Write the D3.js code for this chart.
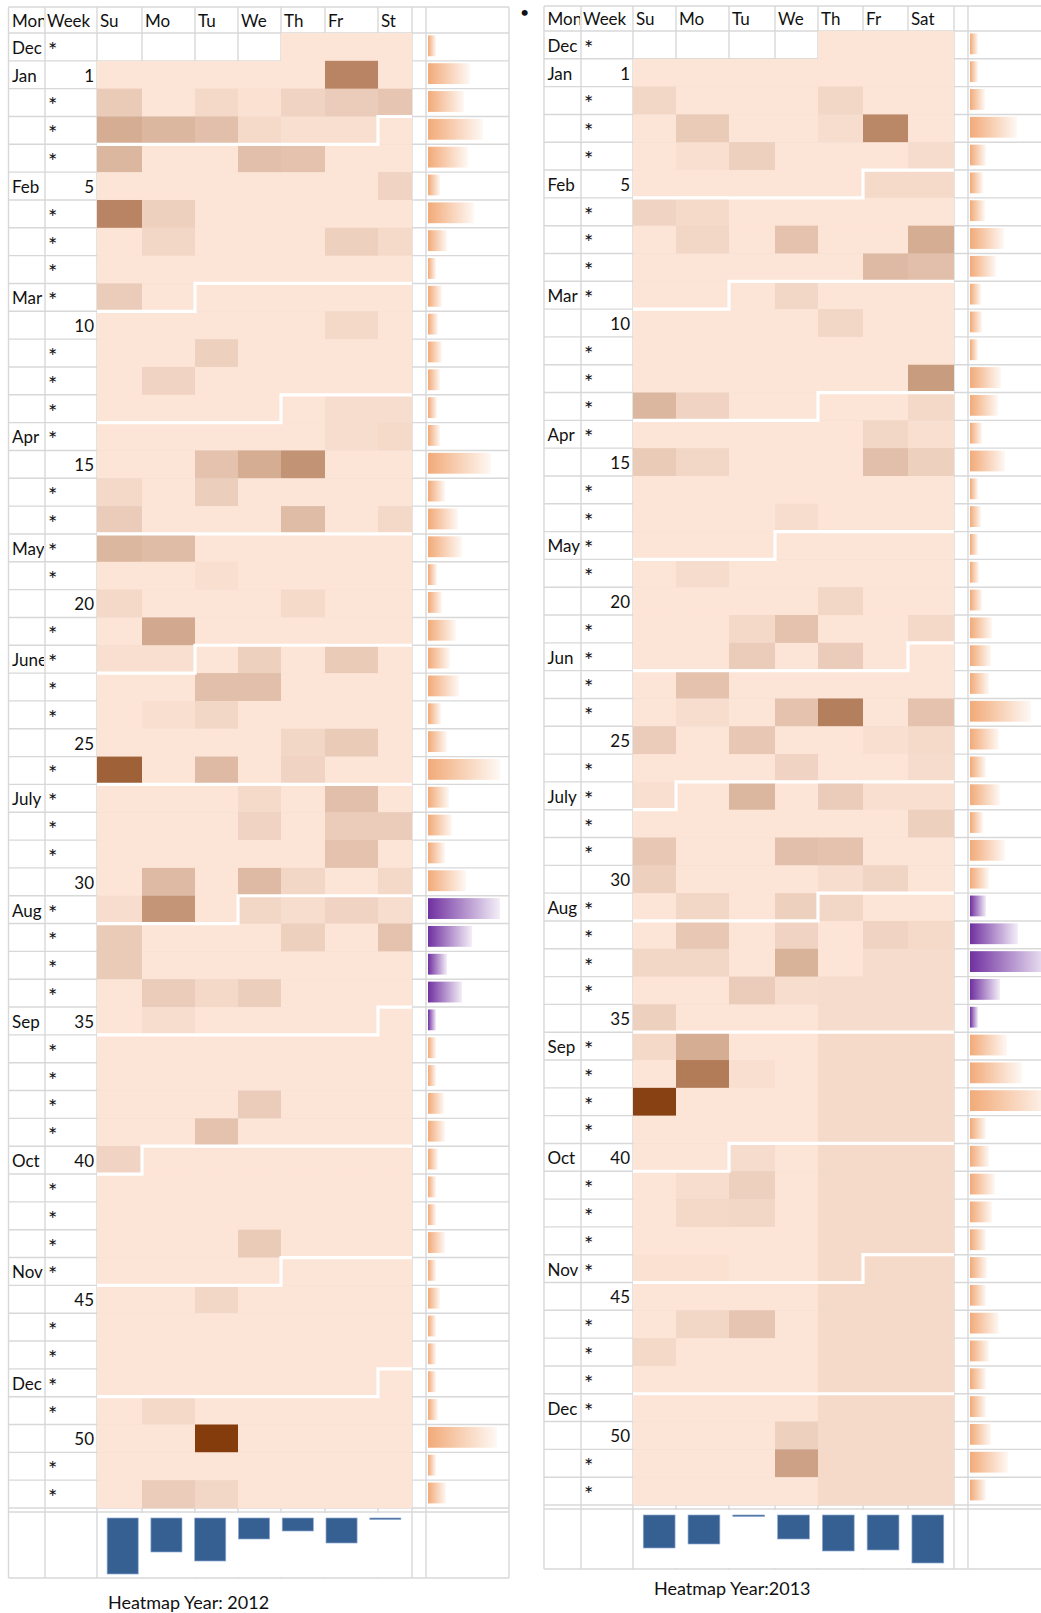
<!DOCTYPE html>
<html>
<head>
<meta charset="utf-8">
<script src="https://cdn.jsdelivr.net/npm/d3@7"></script>
<style>
  body { margin: 0; background: #fff; overflow: hidden; }
  text { font-family: Lato, "Open Sans", sans-serif; fill: #111; }
</style>
</head>
<body>
<svg id="chart" width="1041" height="1613"></svg>
<script>
// ---- data ----
const weekLabels = ['*','1','*','*','*','5','*','*','*','*','10','*','*','*','*','15','*','*','*','*','20','*','*','*','*','25',
  '*','*','*','*','30','*','*','*','*','35','*','*','*','*','40','*','*','*','*','45','*','*','*','*','50','*','*'];

const days2012 = ['Su','Mo','Tu','We','Th','Fr','St'];
const days2013 = ['Su','Mo','Tu','We','Th','Fr','Sat'];

const months2012 = ['Dec','Jan','Feb','Mar','Apr','May','June','July','Aug','Sep','Oct','Nov','Dec'];
const monthRows2012 = [0,1,5,9,14,18,22,27,31,35,40,44,48];
const months2013 = ['Dec','Jan','Feb','Mar','Apr','May','Jun','July','Aug','Sep','Oct','Nov','Dec'];
const monthRows2013 = [0,1,5,9,14,18,22,27,31,36,40,44,49];

// first day of each new month: row (week) and weekday column
const splitRows2012 = [3,9,13,18,22,27,31,35,40,44,48];
const splitCols2012 = [6,2,4,0,2,0,3,6,1,4,6];
const splitRows2013 = [5,9,13,18,22,27,31,36,40,44,49];
const splitCols2013 = [5,2,4,3,6,1,4,0,2,5,0];

// weekly heat values (Su..Sat), 0..100
const heat2012 = [
  [null,null,null,null,0,0,0],
  [0,0,0,0,0,57,0],
  [15,0,7,2,10,14,18],
  [33,27,22,6,3,3,0],
  [27,0,0,22,20,0,0],
  [0,0,0,0,0,0,10],
  [57,12,0,0,0,0,0],
  [0,8,0,0,0,12,6],
  [0,0,0,0,0,0,0],
  [14,0,0,0,0,0,0],
  [0,0,0,0,0,7,0],
  [0,0,12,0,0,0,0],
  [0,10,0,0,0,0,0],
  [0,0,0,0,0,4,4],
  [0,0,0,0,0,4,6],
  [0,0,20,33,48,0,0],
  [7,0,13,0,0,0,0],
  [14,0,0,0,24,0,7],
  [27,24,0,0,0,0,0],
  [0,0,3,0,0,0,0],
  [7,0,0,0,6,0,0],
  [0,35,0,0,0,0,0],
  [3,3,0,12,0,15,0],
  [0,0,22,22,0,0,0],
  [0,3,8,0,0,0,0],
  [0,0,0,0,8,15,0],
  [78,0,25,0,10,0,0],
  [0,0,0,6,0,22,0],
  [0,0,0,10,0,14,14],
  [0,0,0,0,0,20,0],
  [0,25,0,25,8,0,7],
  [4,47,0,8,4,10,4],
  [15,0,0,0,12,0,20],
  [15,0,0,0,0,0,0],
  [0,14,7,13,0,0,0],
  [0,4,0,0,0,0,0],
  [0,0,0,0,0,0,0],
  [0,0,0,0,0,0,0],
  [0,0,0,14,0,0,0],
  [0,0,20,0,0,0,0],
  [10,0,0,0,0,0,0],
  [0,0,0,0,0,0,0],
  [0,0,0,0,0,0,0],
  [0,0,0,15,0,0,0],
  [0,0,0,0,0,0,0],
  [0,0,8,0,0,0,0],
  [0,0,0,0,0,0,0],
  [0,0,0,0,0,0,0],
  [0,0,0,0,0,0,0],
  [0,7,0,0,0,0,0],
  [0,0,100,0,0,0,0],
  [0,0,0,0,0,0,0],
  [0,14,8,0,0,0,0]
];

const heat2013 = [
  [null,null,null,null,0,0,0],
  [0,0,0,0,0,0,0],
  [8,0,0,0,8,0,0],
  [0,15,0,0,4,55,0],
  [0,3,12,0,0,0,5],
  [0,0,0,0,0,6,6],
  [10,6,0,0,0,0,0],
  [0,8,0,20,0,0,33],
  [0,0,0,0,0,25,22],
  [0,0,0,8,0,0,0],
  [0,0,0,0,8,0,0],
  [0,0,0,0,0,0,0],
  [0,0,0,0,0,0,43],
  [27,10,0,0,0,0,7],
  [0,0,0,0,0,8,3],
  [15,8,0,0,0,22,12],
  [0,0,0,0,0,0,0],
  [0,0,0,4,0,0,0],
  [0,0,0,0,0,0,0],
  [0,5,0,0,0,0,0],
  [0,0,0,0,8,0,0],
  [0,0,7,20,0,0,7],
  [0,0,14,0,14,0,0],
  [0,20,0,0,0,0,0],
  [0,4,0,20,60,0,20],
  [14,0,17,0,0,3,6],
  [0,0,0,10,0,0,5],
  [3,0,27,0,14,3,3],
  [0,0,0,0,0,0,12],
  [17,0,0,22,20,0,0],
  [12,0,0,0,4,9,0],
  [0,8,0,12,8,0,0],
  [0,17,0,10,0,10,6],
  [8,8,0,30,0,5,5],
  [0,0,14,4,5,5,5],
  [12,0,0,0,5,5,5],
  [7,33,0,0,6,6,6],
  [0,62,3,0,6,6,6],
  [97,0,0,0,6,6,6],
  [0,0,0,0,6,6,6],
  [0,0,5,0,6,6,6],
  [0,4,12,0,6,6,6],
  [0,7,8,0,6,6,6],
  [0,0,0,0,6,6,6],
  [2,2,0,0,6,6,6],
  [0,0,0,0,6,6,6],
  [0,8,18,0,6,6,6],
  [7,0,0,0,6,6,6],
  [0,0,0,0,6,6,6],
  [0,0,0,0,6,6,6],
  [0,0,0,12,6,6,6],
  [0,0,0,40,6,6,6],
  [0,0,0,0,6,6,6]
];

// weekly totals (data bars)
const weekTotals2012 = [8,42,36,55,40,12,46,19,8,14,10,14,12,9,12,63,17,30,34,9,14,28,22,31,13,19,72,
  21,24,17,38,72,44,19,34,8,8,8,16,17,10,8,8,17,8,12,8,8,8,10,69,8,18];
const weekTotals2013 = [8,8,15,47,16,13,15,34,26,11,12,8,31,28,12,35,8,11,8,9,12,22,21,19,61,29,16,
  30,13,35,19,16,48,80,30,8,37,52,82,16,19,25,22,16,17,16,29,19,16,16,21,38,16];
const highlightWeeks = [31,32,33,34,35];

// weekday totals (bottom bars)
const dayTotals2012 = [56,34,43,21,13,25,1];
const dayTotals2013 = [33,29,1,24,36,35,48];

// ---- drawing ----
const svg = d3.select('#chart');
const defs = svg.append('defs');

function barGradient(id, color) {
  const g = defs.append('linearGradient').attr('id', id)
    .attr('x1', 0).attr('x2', 1).attr('y1', 0).attr('y2', 0);
  g.append('stop').attr('offset', 0).attr('stop-color', color);
  g.append('stop').attr('offset', 1).attr('stop-color', color).attr('stop-opacity', 0.08);
}
barGradient('gOrange', '#F2AA78');
barGradient('gPurple', '#7030A0');

const heatColor = d3.scaleLinear().domain([0, 100])
  .range(['#FCE4D6', '#843C0C']).interpolate(d3.interpolateRgb);
const barX = d3.scaleLinear().domain([0, 100]).range([0, 100]);
const dayY = d3.scaleLinear().domain([0, 60]).range([0, 60]);

function drawYear(cfg) {
  const g = svg.append('g');
  const cx = cfg.colX;
  const last = cx[cx.length - 1];
  const y = d3.scaleBand().domain(d3.range(cfg.heat.length)).range([cfg.headBottom, cfg.rowsBottom]);
  const rh = y.bandwidth();
  const dayX = d3.scaleOrdinal().domain(d3.range(7)).range(cx.slice(2, 9));
  const dayW = d3.scaleOrdinal().domain(d3.range(7)).range(d3.range(7).map(i => cx[i + 3] - cx[i + 2]));

  // grid
  const hLines = [cfg.top, cfg.headBottom, ...y.domain().map(r => y(r) + rh), cfg.gapBottom, cfg.barsBottom];
  g.append('g').selectAll('line').data(hLines).join('line')
    .attr('x1', cx[0]).attr('x2', last).attr('y1', d => d).attr('y2', d => d)
    .attr('stroke', '#d8d8d8').attr('stroke-width', 1.4);
  g.append('g').selectAll('line').data(cx).join('line')
    .attr('x1', d => d).attr('x2', d => d).attr('y1', cfg.top).attr('y2', cfg.barsBottom)
    .attr('stroke', '#d8d8d8').attr('stroke-width', 1.4);

  // heat cells
  const cells = [];
  cfg.heat.forEach((row, r) => row.forEach((v, c) => { if (v !== null) cells.push({ r, c, v }); }));
  g.append('g').selectAll('rect').data(cells).join('rect')
    .attr('x', d => dayX(d.c)).attr('y', d => y(d.r))
    .attr('width', d => dayW(d.c)).attr('height', rh + 0.3)
    .attr('fill', d => heatColor(d.v));

  // month borders
  const x0 = cx[2], x7 = cx[9];
  g.append('g').selectAll('path').data(d3.zip(cfg.splitRows, cfg.splitCols)).join('path')
    .attr('d', ([r, c]) => {
      const t = y(r), b = y(r) + rh;
      if (c === 0) return `M${x0},${t}H${x7}`;
      return `M${x0},${b}H${dayX(c)}V${t}H${x7}`;
    })
    .attr('fill', 'none').attr('stroke', '#fff').attr('stroke-width', 3.2);

  // weekly data bars
  g.append('g').selectAll('rect').data(cfg.weekTotals).join('rect')
    .attr('x', cx[10] + 2).attr('y', (d, i) => y(i) + 2.4)
    .attr('width', d => barX(d)).attr('height', rh - 7)
    .attr('fill', (d, i) => highlightWeeks.includes(i) ? 'url(#gPurple)' : 'url(#gOrange)');

  // weekday totals chart
  g.append('rect').attr('x', cx[2] + 1).attr('y', cfg.gapBottom + 1)
    .attr('width', cx[9] - cx[2] - 2).attr('height', cfg.barsBottom - cfg.gapBottom - 2)
    .attr('fill', '#fff');
  const band = d3.scaleBand().domain(d3.range(7)).range(cfg.bandRange)
    .paddingInner(0.29).paddingOuter(0.14);
  g.append('g').selectAll('rect').data(cfg.dayTotals).join('rect')
    .attr('x', (d, i) => band(i)).attr('y', cfg.barTop)
    .attr('width', band.bandwidth()).attr('height', d => Math.max(1.5, dayY(d)))
    .attr('fill', '#376092').attr('stroke', '#8eaad0').attr('stroke-width', 0.7);

  // texts
  const clipId = 'clip' + cfg.year;
  defs.append('clipPath').attr('id', clipId).append('rect')
    .attr('x', cx[0]).attr('y', 0).attr('width', cx[1] - cx[0] - 1).attr('height', 1613);
  const fs = 17;
  const hb = cfg.headBottom - 6;
  g.append('text').attr('x', cx[0] + 3.5).attr('y', hb).attr('font-size', fs)
    .attr('clip-path', `url(#${clipId})`).text('Month');
  g.append('text').attr('x', cx[1] + 2).attr('y', hb).attr('font-size', fs).text('Week');
  g.append('g').selectAll('text').data(cfg.days).join('text')
    .attr('x', (d, i) => dayX(i) + 3).attr('y', hb).attr('font-size', fs).text(d => d);

  g.append('g').attr('clip-path', `url(#${clipId})`).selectAll('text')
    .data(d3.zip(cfg.months, cfg.monthRows)).join('text')
    .attr('x', cx[0] + 3.5).attr('y', d => y(d[1]) + rh - 7).attr('font-size', fs).text(d => d[0]);

  g.append('g').selectAll('text').data(weekLabels).join('text')
    .attr('x', d => d === '*' ? cx[1] + 3 : cx[2] - 3)
    .attr('text-anchor', d => d === '*' ? 'start' : 'end')
    .attr('y', (d, i) => y(i) + rh - (d === '*' ? 3 : 7))
    .attr('font-size', d => d === '*' ? 22 : fs).text(d => d);

  g.append('text').attr('x', cfg.titleX).attr('y', cfg.titleY).attr('font-size', 18).text(cfg.title);
}

drawYear({
  year: 2012, colX: [8.5, 45, 97, 142, 195, 238, 281, 325, 378, 412, 426, 509],
  top: 7, headBottom: 33, rowsBottom: 1508, gapBottom: 1512, barsBottom: 1578, barTop: 1518,
  heat: heat2012, weekTotals: weekTotals2012, dayTotals: dayTotals2012, days: days2012,
  months: months2012, monthRows: monthRows2012, splitRows: splitRows2012, splitCols: splitCols2012,
  bandRange: [101, 407], title: 'Heatmap Year:  2012', titleX: 108, titleY: 1609
});

drawYear({
  year: 2013, colX: [544, 581, 633, 676, 729, 775, 818, 863, 908, 954, 968, 1100],
  top: 6, headBottom: 31, rowsBottom: 1505, gapBottom: 1509, barsBottom: 1569, barTop: 1515,
  heat: heat2013, weekTotals: weekTotals2013, dayTotals: dayTotals2013, days: days2013,
  months: months2013, monthRows: monthRows2013, splitRows: splitRows2013, splitCols: splitCols2013,
  bandRange: [637, 950], title: 'Heatmap Year:2013', titleX: 654, titleY: 1595
});

svg.append('text').attr('x', 520).attr('y', 18).attr('font-size', 16).text('•');
</script>
</body>
</html>
